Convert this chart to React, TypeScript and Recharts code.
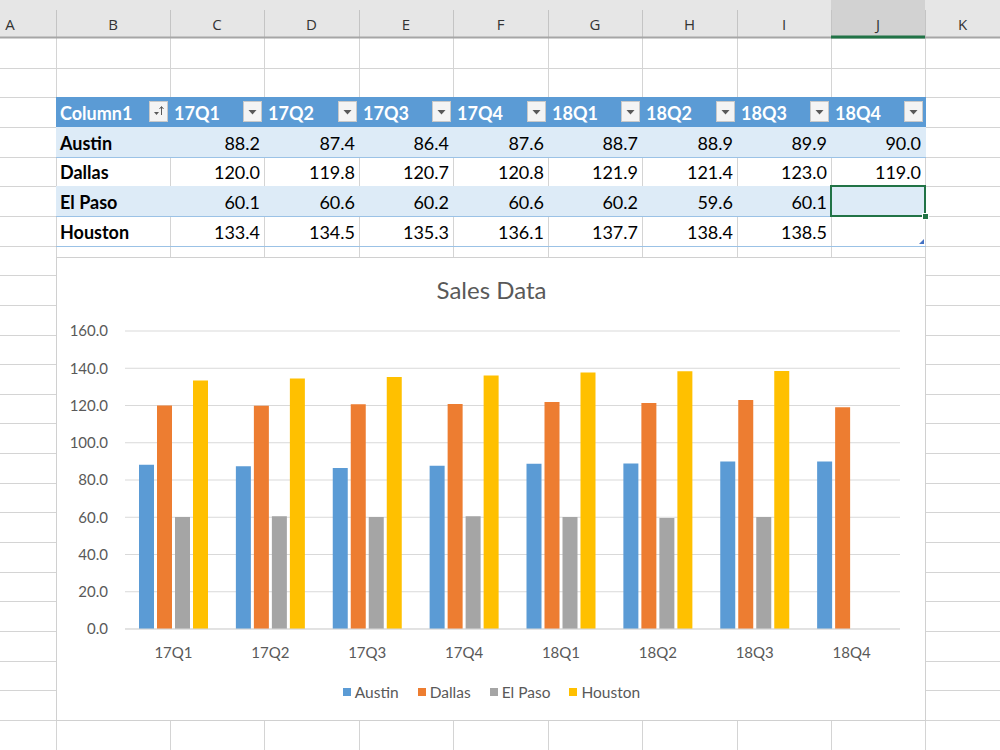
import { BarChart, Bar, XAxis, YAxis, CartesianGrid } from 'recharts';

// quarterly sales per city
const quarters = ['17Q1', '17Q2', '17Q3', '17Q4', '18Q1', '18Q2', '18Q3', '18Q4'];
const cities = ['Austin', 'Dallas', 'El Paso', 'Houston'];
const austin = [88.2, 87.4, 86.4, 87.6, 88.7, 88.9, 89.9, 90.0];
const dallas = [120.0, 119.8, 120.7, 120.8, 121.9, 121.4, 123.0, 119.0];
const elPaso = [60.1, 60.6, 60.2, 60.6, 60.2, 59.6, 60.1, null];
const houston = [133.4, 134.5, 135.3, 136.1, 137.7, 138.4, 138.5, null];
const yTicks = [0, 20, 40, 60, 80, 100, 120, 140, 160];
const colLetters = ['A', 'B', 'C', 'D', 'E', 'F', 'G', 'H', 'I', 'J', 'K'];

const seriesValues = [austin, dallas, elPaso, houston];
const COLORS = ['#5b9bd5', '#ed7d31', '#a5a5a5', '#ffc000'];

const chartData = quarters.map((q, i) => {
  const row: Record<string, string | number | null> = { quarter: q };
  cities.forEach((c, k) => {
    row[c] = seriesValues[k][i];
  });
  return row;
});

// sheet geometry
const COL_X = [0, 56, 170, 264, 359, 453, 548, 642, 737, 831, 925, 1000];
const HEAD_H = 38;
const ROW_H = 29.65;
const rowTop = (r: number) => HEAD_H + r * ROW_H;
const TABLE_ROW = 2; // header row of the table
const SELECTED_COL = 9; // J

const CELL_FONT = 'Lato, "Noto Sans", sans-serif';
const CHART_FONT = 'Lato, "Noto Sans", sans-serif';
const GRAY_TEXT = '#595959';

function SheetGrid() {
  const lines = [];
  for (let i = 1; i < COL_X.length - 1; i++) {
    const x = Math.round(COL_X[i]) + 0.5;
    lines.push(<line key={'v' + i} x1={x} x2={x} y1={HEAD_H} y2={750} stroke="#d4d4d4" />);
    lines.push(<line key={'hv' + i} x1={x} x2={x} y1={10} y2={HEAD_H} stroke="#c4c4c4" />);
  }
  for (let r = 1; r < 25; r++) {
    const y = Math.round(rowTop(r)) + 0.5;
    lines.push(<line key={'h' + r} x1={0} x2={1000} y1={y} y2={y} stroke="#d4d4d4" />);
  }
  return (
    <svg width={1000} height={750} style={{ position: 'absolute', left: 0, top: 0 }}>
      <rect x={0} y={0} width={1000} height={HEAD_H} fill="#e6e6e6" />
      <rect x={COL_X[SELECTED_COL]} y={0} width={COL_X[SELECTED_COL + 1] - COL_X[SELECTED_COL]} height={HEAD_H} fill="#d2d2d2" />
      {lines}
      <line x1={0} x2={1000} y1={HEAD_H - 0.5} y2={HEAD_H - 0.5} stroke="#a6a6a6" strokeWidth={2} />
      <line x1={COL_X[SELECTED_COL]} x2={COL_X[SELECTED_COL + 1]} y1={HEAD_H - 1} y2={HEAD_H - 1} stroke="#217346" strokeWidth={3} />
      {colLetters.map((l, i) => (
        <text key={l} x={(COL_X[i] + COL_X[i + 1]) / 2 + (i === 0 ? -18 : 0)} y={30} textAnchor="middle"
          fontFamily='"Open Sans", sans-serif' fontSize={15} fill="#333">{l}</text>
      ))}
    </svg>
  );
}

function FilterButton({ x, y, sort }: { x: number; y: number; sort?: boolean }) {
  return (
    <div style={{
      position: 'absolute', left: x, top: y, width: 19, height: 21, background: '#f4f4f4',
      border: '1px solid #c9c9c9', boxSizing: 'border-box',
    }}>
      <svg width={17} height={19} style={{ position: 'absolute', left: 0, top: 0 }}>
        {sort ? (
          <g stroke="#595959" fill="#595959">
            <path d="M4 10 L9 10 L6.5 13 Z" stroke="none" />
            <line x1={11.5} x2={11.5} y1={5} y2={13} />
            <path d="M9.5 7 L11.5 4.5 L13.5 7" fill="none" />
          </g>
        ) : (
          <path d="M4.5 8 L12.5 8 L8.5 12.5 Z" fill="#595959" />
        )}
      </svg>
    </div>
  );
}

function DataTable() {
  const cells = [];
  const headTop = rowTop(TABLE_ROW);
  const tableLeft = COL_X[1];
  const tableRight = COL_X[10];
  cells.push(
    <div key="headbg" style={{
      position: 'absolute', left: tableLeft, top: Math.round(headTop), width: tableRight - tableLeft + 1,
      height: Math.round(ROW_H), background: '#5b9bd5',
    }} />
  );
  const headers = ['Column1', ...quarters];
  headers.forEach((h, i) => {
    const x0 = COL_X[i + 1];
    const x1 = COL_X[i + 2];
    cells.push(
      <div key={'h' + i} style={{
        position: 'absolute', left: x0 + 4, top: Math.round(headTop), height: Math.round(ROW_H),
        lineHeight: Math.round(ROW_H) + 2 + 'px', color: '#fff', fontWeight: 700, fontSize: 18, fontFamily: CELL_FONT,
      }}>{h}</div>
    );
    cells.push(<FilterButton key={'f' + i} x={x1 - 21} y={Math.round(headTop) + 4} sort={i === 0} />);
  });

  cities.forEach((city, r) => {
    const top = Math.round(rowTop(TABLE_ROW + 1 + r));
    const h = Math.round(rowTop(TABLE_ROW + 2 + r)) - top;
    if (r % 2 === 0) {
      cells.push(
        <div key={'band' + r} style={{
          position: 'absolute', left: tableLeft, top, width: tableRight - tableLeft + 1, height: h, background: '#ddebf7',
        }} />
      );
    }
    cells.push(
      <div key={'line' + r} style={{
        position: 'absolute', left: tableLeft, top: top + h, width: tableRight - tableLeft + 1, height: 1, background: '#9bc2e6',
      }} />
    );
    cells.push(
      <div key={'n' + r} style={{
        position: 'absolute', left: tableLeft + 4, top, height: h, lineHeight: h + 2 + 'px',
        fontWeight: 700, fontSize: 18, fontFamily: CELL_FONT, color: '#000',
      }}>{city}</div>
    );
    seriesValues[r].forEach((v, c) => {
      if (v == null) return;
      const x0 = COL_X[c + 2];
      const x1 = COL_X[c + 3];
      cells.push(
        <div key={'v' + r + '-' + c} style={{
          position: 'absolute', left: x0, width: x1 - x0 - 4, top, height: h, lineHeight: h + 2 + 'px',
          textAlign: 'right', fontSize: 18, fontFamily: CELL_FONT, color: '#000',
        }}>{v.toFixed(1)}</div>
      );
    });
  });

  // active cell on the empty El Paso 18Q4
  const selTop = Math.round(rowTop(TABLE_ROW + 3));
  const selBottom = Math.round(rowTop(TABLE_ROW + 4));
  cells.push(
    <div key="sel" style={{
      position: 'absolute', left: COL_X[9] - 1, top: selTop - 1, width: COL_X[10] - COL_X[9] + 2,
      height: selBottom - selTop + 2, border: '2px solid #217346', boxSizing: 'border-box',
    }} />
  );
  cells.push(
    <div key="handle" style={{
      position: 'absolute', left: COL_X[10] - 3, top: selBottom - 3, width: 7, height: 7,
      background: '#217346', border: '1px solid #fff', boxSizing: 'border-box',
    }} />
  );
  const tableBottom = Math.round(rowTop(TABLE_ROW + 5));
  cells.push(
    <svg key="resize" width={6} height={6} style={{ position: 'absolute', left: tableRight - 6, top: tableBottom - 7 }}>
      <path d="M5 0 L5 5 L0 5 Z" fill="#4472c4" />
    </svg>
  );
  return <>{cells}</>;
}

function SalesChart() {
  const W = 869;
  const H = 463;
  return (
    <div style={{
      position: 'absolute', left: 56, top: 257, width: W + 1, height: H + 1, background: '#fff',
      border: '1px solid #d0d0d0', boxSizing: 'border-box',
    }}>
      <div style={{
        position: 'absolute', left: 0, top: 17, width: W, textAlign: 'center', fontFamily: CHART_FONT,
        fontSize: 24, color: GRAY_TEXT,
      }}>Sales Data</div>
      <div style={{ position: 'absolute', left: -1, top: -1 }}>
        <BarChart width={W} height={H} data={chartData} barSize={15} barGap={3}
          margin={{ top: 74, right: 25, bottom: 61, left: 0 }}>
          <CartesianGrid vertical={false} stroke="#d9d9d9" />
          <XAxis dataKey="quarter" axisLine={{ stroke: '#d9d9d9' }} tickLine={false} tickMargin={12}
            tick={{ fill: GRAY_TEXT, fontSize: 15, fontFamily: CHART_FONT }} />
          <YAxis domain={[0, 160]} ticks={yTicks} width={69} axisLine={false} tickLine={false} tickMargin={11}
            tickFormatter={(v: number) => v.toFixed(1)}
            tick={{ fill: GRAY_TEXT, fontSize: 15, fontFamily: CHART_FONT }} />
          {cities.map((c, i) => (
            <Bar key={c} dataKey={c} fill={COLORS[i]} isAnimationActive={false} />
          ))}
        </BarChart>
      </div>
      <div style={{
        position: 'absolute', left: 0, top: 423, width: W, height: 22, display: 'flex',
        justifyContent: 'center', alignItems: 'center', gap: 19, fontFamily: CHART_FONT, fontSize: 15.5, color: GRAY_TEXT,
      }}>
        {cities.map((c, i) => (
          <div key={c} style={{ display: 'flex', alignItems: 'center' }}>
            <span style={{ width: 8, height: 8, background: COLORS[i], marginRight: 4, display: 'inline-block' }} />
            <span>{c}</span>
          </div>
        ))}
      </div>
    </div>
  );
}

export default function App() {
  return (
    <div style={{
      position: 'absolute', left: 0, top: 0, width: 1000, height: 750, overflow: 'hidden', background: '#fff',
    }}>
      <SheetGrid />
      <DataTable />
      <SalesChart />
    </div>
  );
}
